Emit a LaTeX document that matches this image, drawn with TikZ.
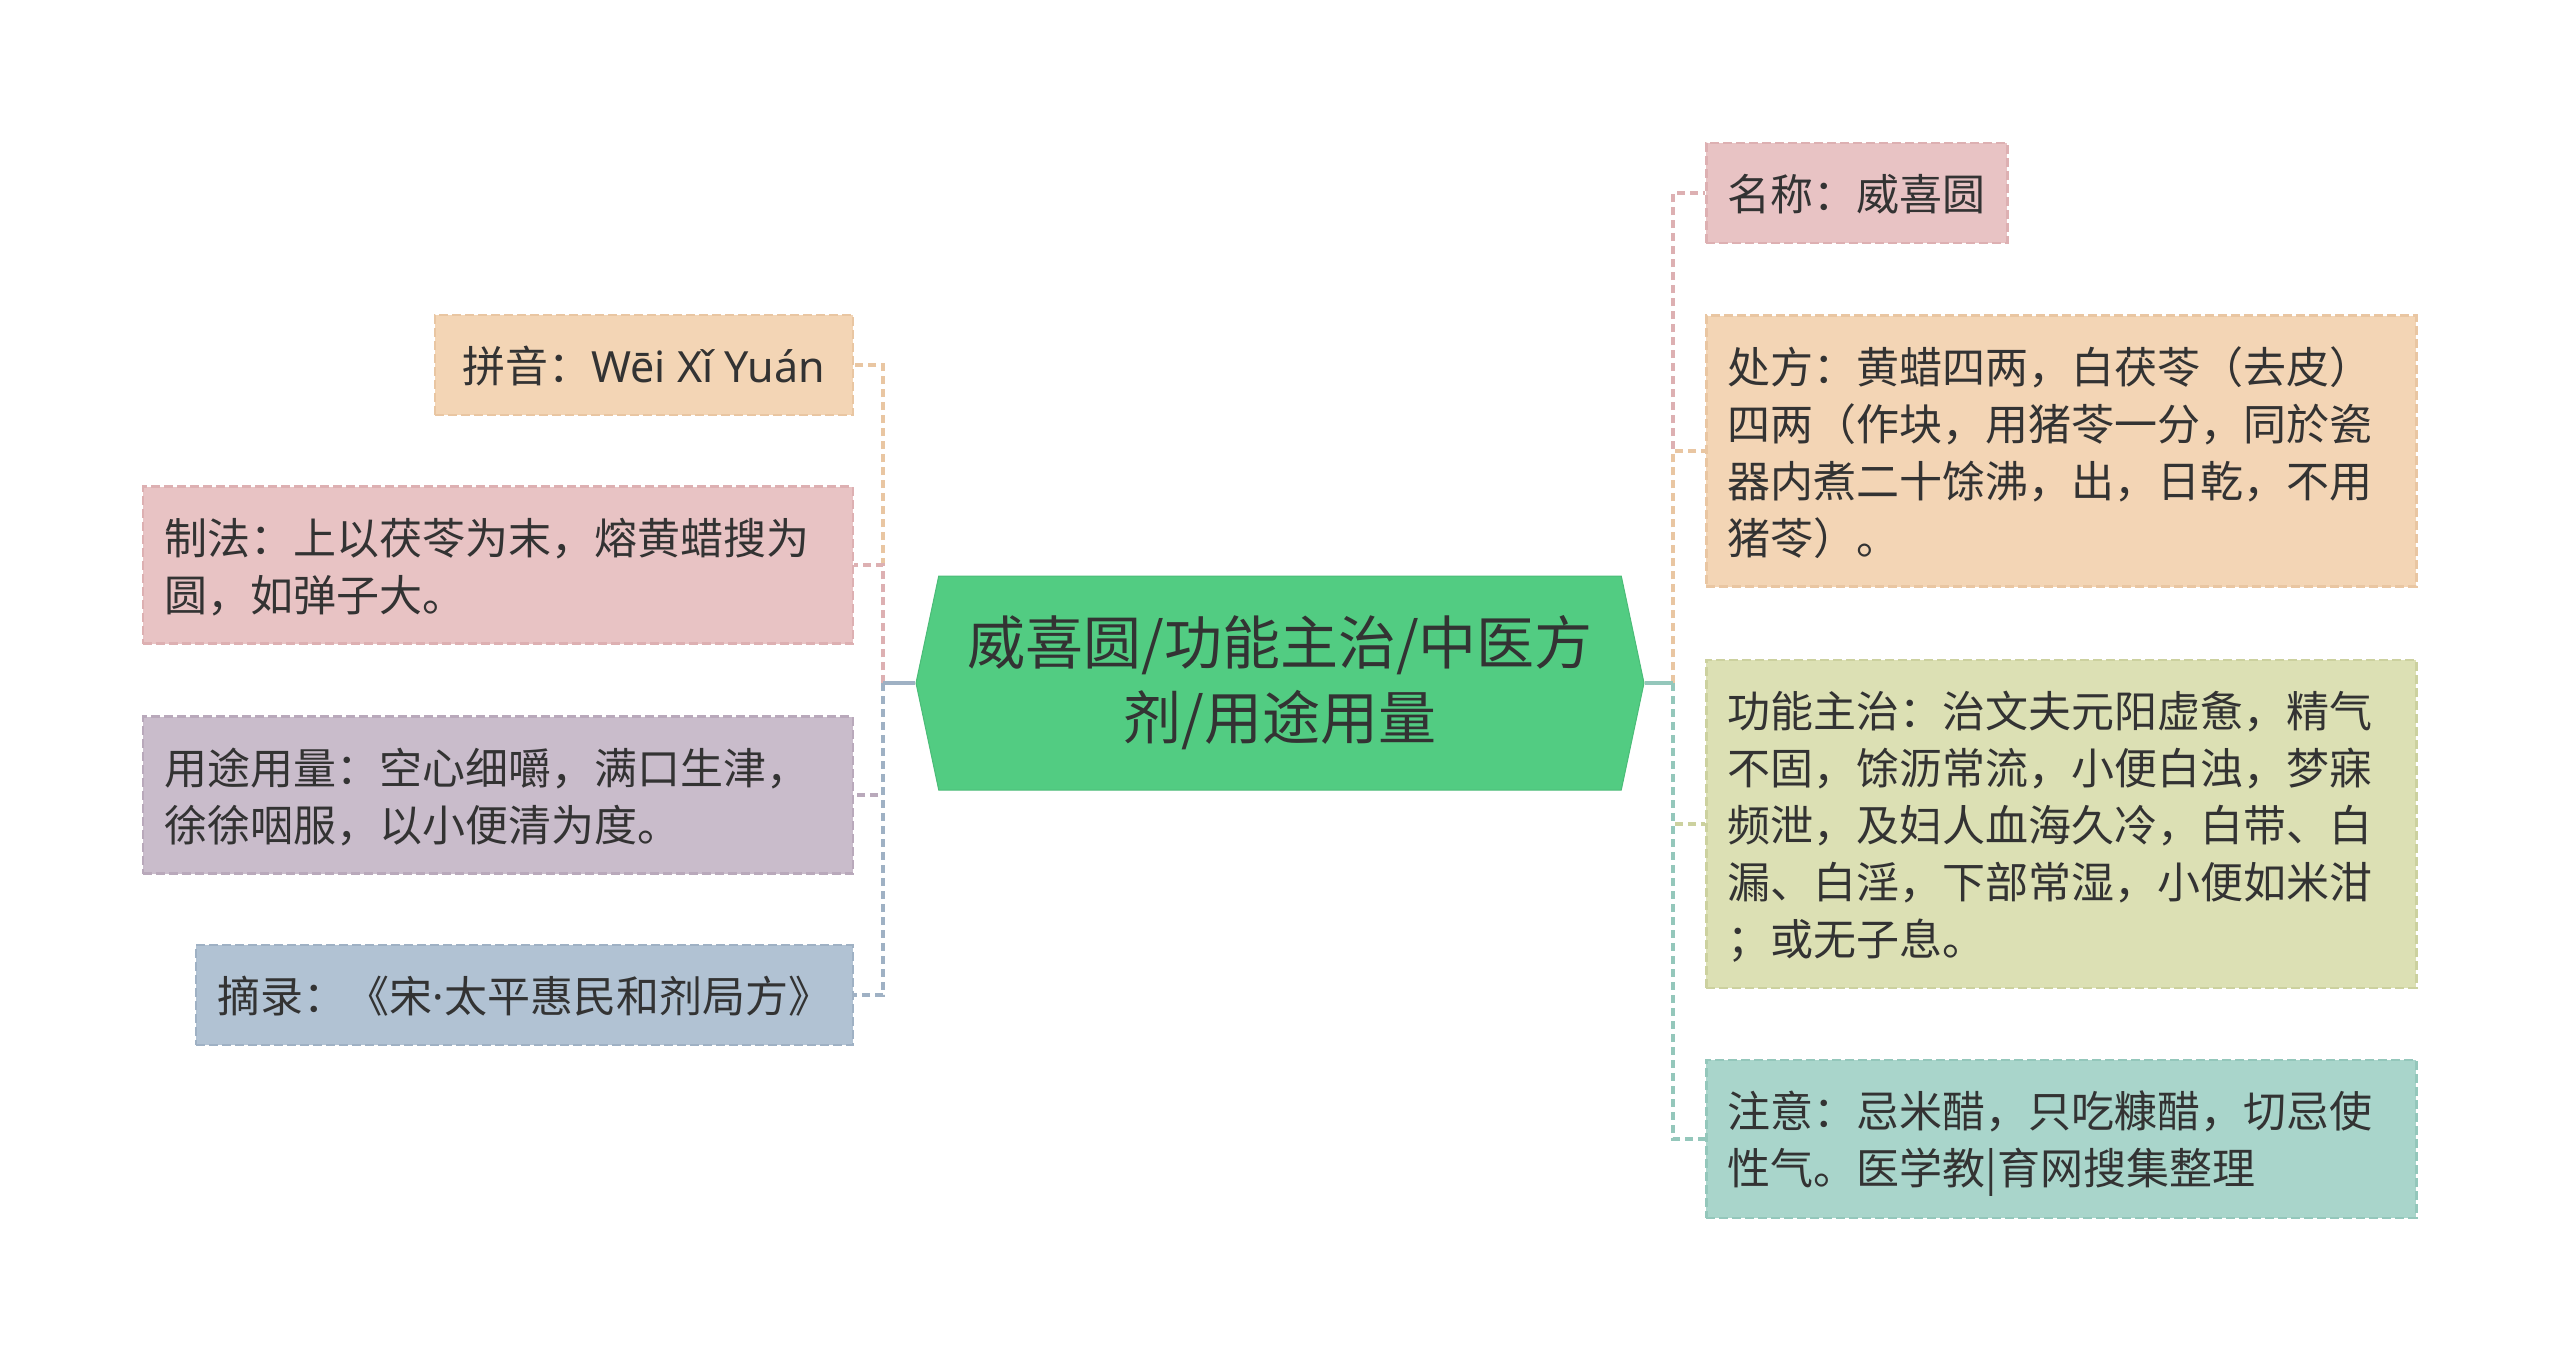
\documentclass[tikz,border=0pt]{standalone}
\usepackage{fontspec}
\setmainfont{Noto Sans CJK SC}
\newfontfamily\latinfont{Noto Sans}
\usepackage{tikz}
\usetikzlibrary{shapes.symbols}
\usepackage{xcolor}

\definecolor{fPeach}{HTML}{F3D5B5}
\definecolor{ePeach}{HTML}{E9C6A2}
\definecolor{fPink}{HTML}{E8C3C4}
\definecolor{ePink}{HTML}{DDB0B2}
\definecolor{fLilac}{HTML}{C9BCCB}
\definecolor{eLilac}{HTML}{B9A9BB}
\definecolor{fSlate}{HTML}{B1C2D3}
\definecolor{eSlate}{HTML}{9FB1C4}
\definecolor{fOlive}{HTML}{DCE0B4}
\definecolor{eOlive}{HTML}{CCD19F}
\definecolor{fMint}{HTML}{A9D5CB}
\definecolor{eMint}{HTML}{94C7BB}
\definecolor{rootGreen}{HTML}{52CC82}
\definecolor{inkGrey}{HTML}{333333}

\newcommand\lstrut{\rule[-11pt]{0pt}{57pt}}

\begin{document}
\begin{tikzpicture}[x=1pt, y=-1pt,
    leaf/.style={rectangle, fill=f#1, draw=e#1, line width=2.5pt,
                 dash pattern=on 9pt off 4pt, inner sep=21.5pt, align=left,
                 text=inkGrey, font=\fontsize{43}{57}\selectfont,
                 execute at begin node=\lstrut, execute at end node=\lstrut},
    wide/.style={text width=667pt},
    root/.style={signal, signal to=west and east, signal pointer angle=156,
                 fill=rootGreen, draw=rootGreen!92!black, line width=1pt,
                 minimum width=728pt, minimum height=214pt, align=center,
                 text=inkGrey, font=\fontsize{58}{75}\selectfont},
    stem/.style={line width=3.5pt},
    tie/.style={line width=3.5pt, dash pattern=on 8pt off 5pt}
  ]
    \useasboundingbox[fill=white] (0,0) rectangle (2560,1361);

    \node[root] (root) at (1280, 683) {威喜圆/功能主治/中医方\\剂/用途用量};

    % left branch
    \node[leaf=Peach, minimum width=418pt, anchor=east] (l1) at (854, 365) {拼音：{\latinfont Wēi Xǐ Yuán}};
    \node[leaf=Pink, wide, anchor=east] (l2) at (854, 565) {制法：上以茯苓为末，熔黄蜡搜为\\圆，如弹子大。};
    \node[leaf=Lilac, wide, anchor=east] (l3) at (854, 795) {用途用量：空心细嚼，满口生津，\\徐徐咽服，以小便清为度。};
    \node[leaf=Slate, anchor=east] (l4) at (854, 995) {摘录：《宋{\latinfont ·}太平惠民和剂局方》};

    % right branch
    \node[leaf=Pink, anchor=west] (r1) at (1705, 193) {名称：威喜圆};
    \node[leaf=Peach, wide, anchor=west] (r2) at (1705, 451) {处方：黄蜡四两，白茯苓（去皮）\\四两（作块，用猪苓一分，同於瓷\\器内煮二十馀沸，出，日乾，不用\\猪苓）。};
    \node[leaf=Olive, wide, anchor=west] (r3) at (1705, 824) {功能主治：治文夫元阳虚惫，精气\\不固，馀沥常流，小便白浊，梦寐\\频泄，及妇人血海久冷，白带、白\\漏、白淫，下部常湿，小便如米泔\\；或无子息。};
    \node[leaf=Mint, wide, anchor=west] (r4) at (1705, 1139) {注意：忌米醋，只吃糠醋，切忌使\\性气。医学教|育网搜集整理};

    \coordinate (jl) at (883, 683);
    \coordinate (jr) at (1673, 683);

    \foreach \n/\c in {l1/ePeach, l2/ePink, l3/eLilac, l4/eSlate}{
      \draw[stem, \c] (root.west) -- (jl);
      \draw[tie, \c] (jl) |- (\n.east);
    }
    \foreach \n/\c in {r1/ePink, r2/ePeach, r3/eOlive, r4/eMint}{
      \draw[stem, \c] (root.east) -- (jr);
      \draw[tie, \c] (jr) |- (\n.west);
    }
  \end{tikzpicture}
\end{document}
